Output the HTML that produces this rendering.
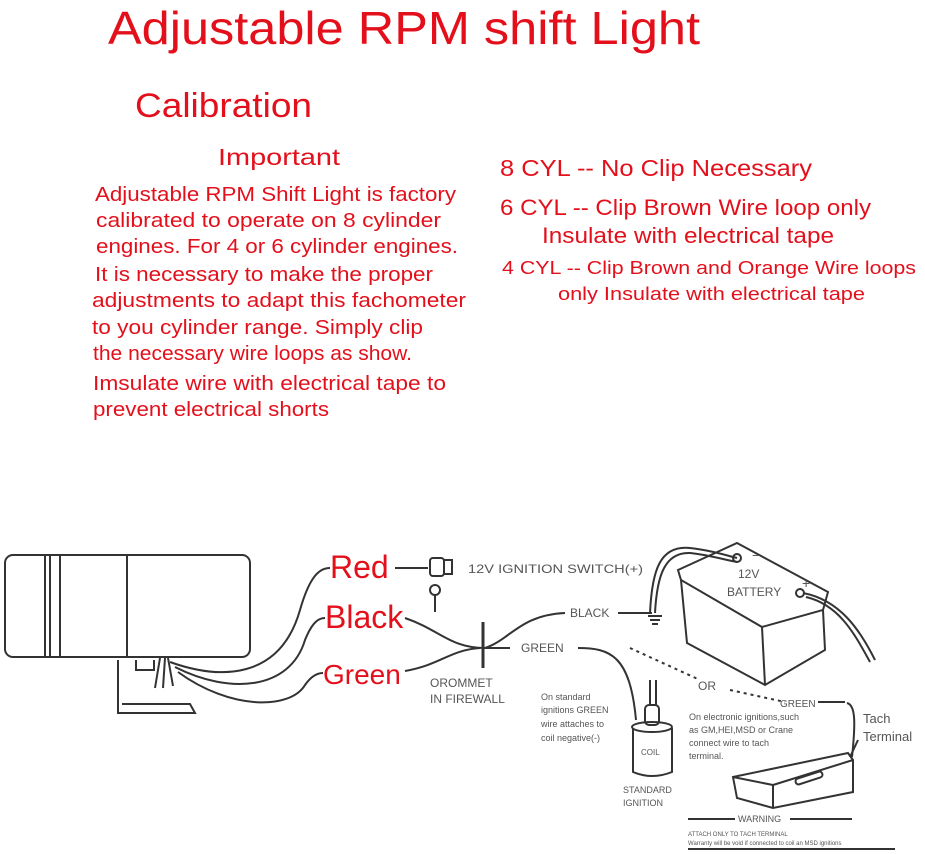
<!DOCTYPE html>
<html><head><meta charset="utf-8"><style>
html,body{margin:0;padding:0;background:#fff;}
svg{display:block;}
.r{fill:#e3101c;font-family:"Liberation Sans",sans-serif;}
.d{fill:#555;font-family:"Liberation Sans",sans-serif;}
</style></head><body>
<svg width="925" height="854" viewBox="0 0 925 854" xmlns="http://www.w3.org/2000/svg">
<text class="r" x="108" y="44" font-size="46" textLength="592" lengthAdjust="spacingAndGlyphs">Adjustable RPM shift Light</text>
<text class="r" x="135" y="117" font-size="34" textLength="177" lengthAdjust="spacingAndGlyphs">Calibration</text>
<text class="r" x="218" y="165" font-size="23" textLength="122" lengthAdjust="spacingAndGlyphs">Important</text>
<g class="r" font-size="20">
<text x="95" y="201" textLength="361" lengthAdjust="spacingAndGlyphs">Adjustable RPM Shift Light is factory</text>
<text x="96" y="227" textLength="345" lengthAdjust="spacingAndGlyphs">calibrated to operate on 8 cylinder</text>
<text x="96" y="253" textLength="362" lengthAdjust="spacingAndGlyphs">engines. For 4 or 6 cylinder engines.</text>
<text x="95" y="281" textLength="338" lengthAdjust="spacingAndGlyphs">It is necessary to make the proper</text>
<text x="92" y="307" textLength="374" lengthAdjust="spacingAndGlyphs">adjustments to adapt this fachometer</text>
<text x="92" y="334" textLength="331" lengthAdjust="spacingAndGlyphs">to you cylinder range. Simply clip</text>
<text x="93" y="360" textLength="319" lengthAdjust="spacingAndGlyphs">the necessary wire loops as show.</text>
<text x="93" y="390" textLength="353" lengthAdjust="spacingAndGlyphs">Imsulate wire with electrical tape to</text>
<text x="93" y="416" textLength="236" lengthAdjust="spacingAndGlyphs">prevent electrical shorts</text>
</g>
<text class="r" x="500" y="176" font-size="23" textLength="312" lengthAdjust="spacingAndGlyphs">8 CYL -- No Clip Necessary</text>
<text class="r" x="500" y="215" font-size="22" textLength="371" lengthAdjust="spacingAndGlyphs">6 CYL -- Clip Brown Wire loop only</text>
<text class="r" x="542" y="243" font-size="22" textLength="292" lengthAdjust="spacingAndGlyphs">Insulate with electrical tape</text>
<text class="r" x="502" y="274" font-size="18" textLength="414" lengthAdjust="spacingAndGlyphs">4 CYL -- Clip Brown and Orange Wire loops</text>
<text class="r" x="558" y="300" font-size="18" textLength="307" lengthAdjust="spacingAndGlyphs">only Insulate with electrical tape</text>

<g fill="none" stroke="#333" stroke-width="2">
<rect x="5" y="555" width="245" height="102" rx="8"/>
<line x1="45" y1="555" x2="45" y2="657"/>
<line x1="50" y1="555" x2="50" y2="657"/>
<line x1="60" y1="555" x2="60" y2="657"/>
<line x1="127" y1="555" x2="127" y2="657"/>
<path d="M118 660 V713 H195 L190 704 H122"/>
<path d="M136 660 v10 h18 v-10"/>
<path d="M160 658 l-5 30 M165 658 l-2 30 M168 658 l5 28"/>
<path d="M170 662 C220 680 280 680 300 610 C310 575 320 568 330 568"/>
<path d="M175 667 C230 695 290 690 305 640 C313 620 320 618 325 618"/>
<path d="M178 672 C230 710 290 710 305 685 C312 675 318 673 323 673"/>
<path d="M405 618 C440 630 450 648 485 648 C510 640 520 615 565 613"/>
<path d="M405 671 C440 665 450 650 480 648"/>
<line x1="395" y1="568" x2="428" y2="568"/>
<rect x="430" y="558" width="14" height="18" rx="3"/>
<rect x="444" y="560" width="8" height="14"/>
<circle cx="435" cy="590" r="5"/>
<line x1="435" y1="595" x2="435" y2="612"/>
<line x1="483" y1="622" x2="483" y2="668" stroke-width="3"/>
<line x1="485" y1="648" x2="510" y2="648"/>
<line x1="618" y1="613" x2="652" y2="613"/>
<path d="M650 613 C652 570 660 545 690 548 C710 550 725 555 737 558"/>
<path d="M655 613 C657 575 665 552 690 553 C710 555 725 560 737 562"/>
<line x1="648" y1="616" x2="662" y2="616"/><line x1="650" y1="620" x2="660" y2="620"/><line x1="652" y1="624" x2="658" y2="624"/>
<path d="M678 570 L737 543 L828 592 L823 610 L762 627 L681 580 Z"/>
<path d="M681 580 L687 643 L765 685 L825 650 L823 610"/>
<line x1="762" y1="627" x2="765" y2="685"/>
<circle cx="737" cy="558" r="4"/>
<circle cx="800" cy="593" r="4"/>
<path d="M803 593 C840 600 860 630 875 660"/>
<path d="M806 597 C840 605 855 635 870 662"/>
<path d="M578 648 C610 648 630 655 636 720"/>
<path d="M630 648 L700 680 M730 690 L785 702" stroke-dasharray="3 4"/>
<path d="M633 728 V772 Q652 780 672 772 V728"/>
<ellipse cx="652" cy="727" rx="20" ry="5"/>
<rect x="645" y="705" width="14" height="20" rx="4"/>
<line x1="650" y1="680" x2="650" y2="705"/><line x1="656" y1="680" x2="656" y2="705"/>
<path d="M847 703 C855 705 856 720 852 757"/>
<line x1="818" y1="702" x2="845" y2="702"/>
<path d="M733 777 L848 753 L853 760 L853 792 L773 808 L737 798 Z"/>
<line x1="733" y1="777" x2="773" y2="785"/>
<line x1="773" y1="785" x2="853" y2="760"/>
<line x1="773" y1="785" x2="773" y2="808"/>
<rect x="795" y="775" width="28" height="6" rx="3" transform="rotate(-18 809 778)"/>
<path d="M850 757 L858 740"/>
<line x1="688" y1="819" x2="735" y2="819"/>
<line x1="790" y1="819" x2="852" y2="819"/>
<line x1="688" y1="849" x2="895" y2="849"/>
</g>
<text class="r" x="330" y="578" font-size="32">Red</text>
<text class="r" x="325" y="628" font-size="32">Black</text>
<text class="r" x="323" y="684" font-size="28">Green</text>
<g class="d" font-size="11">
<text x="468" y="573" font-size="12" textLength="175" lengthAdjust="spacingAndGlyphs">12V IGNITION SWITCH(+)</text>
<text x="570" y="617" font-size="12">BLACK</text>
<text x="521" y="652" font-size="12">GREEN</text>
<text x="430" y="687" font-size="12">OROMMET</text>
<text x="430" y="703" font-size="12">IN FIREWALL</text>
<text x="738" y="578" font-size="12">12V</text>
<text x="727" y="596" font-size="12">BATTERY</text>
<text x="802" y="588" font-size="14">+</text>
<text x="752" y="560" font-size="14">−</text>
<text x="698" y="690" font-size="12">OR</text>
<text x="780" y="707" font-size="10">GREEN</text>
<text x="541" y="700" font-size="9">On standard</text>
<text x="541" y="713" font-size="9">ignitions GREEN</text>
<text x="541" y="727" font-size="9">wire attaches to</text>
<text x="541" y="741" font-size="9">coil negative(-)</text>
<text x="641" y="755" font-size="8">COIL</text>
<text x="623" y="793" font-size="9">STANDARD</text>
<text x="623" y="806" font-size="9">IGNITION</text>
<text x="689" y="720" font-size="9">On electronic ignitions,such</text>
<text x="689" y="733" font-size="9">as GM,HEI,MSD or Crane</text>
<text x="689" y="746" font-size="9">connect wire to tach</text>
<text x="689" y="759" font-size="9">terminal.</text>
<text x="863" y="723" font-size="13">Tach</text>
<text x="863" y="741" font-size="13">Terminal</text>
<text x="738" y="822" font-size="9">WARNING</text>
<text x="688" y="836" font-size="6">ATTACH ONLY TO TACH TERMINAL</text>
<text x="688" y="845" font-size="6">Warranty will be void if connected to coil an MSD ignitions</text>
</g>
</svg>
</body></html>
